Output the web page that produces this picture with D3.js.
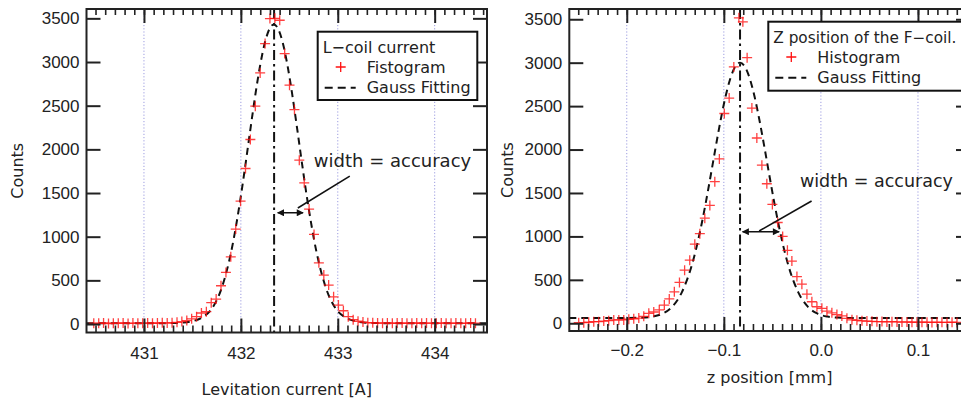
<!DOCTYPE html>
<html><head><meta charset="utf-8">
<script src="https://cdn.jsdelivr.net/npm/d3@7"></script>
<style>
html,body{margin:0;padding:0;background:#fff;}
svg{display:block;}
.lbl{font-family:"DejaVu Sans",sans-serif;font-size:16px;fill:#222;}
</style></head><body>
<svg id="chart" width="961" height="401"></svg>
<script>
// ---------------- DATA ----------------
const yTicks = [0, 500, 1000, 1500, 2000, 2500, 3000, 3500];
const yTickLabels = ["0", "500", "1000", "1500", "2000", "2500", "3000", "3500"];

// Left panel: L-coil current
const leftXTicks = [431, 432, 433, 434];
const leftXTickLabels = ["431", "432", "433", "434"];
const leftHistX = [430.482,430.533,430.583,430.634,430.684,430.735,430.785,430.836,430.886,430.937,
  430.987,431.038,431.088,431.139,431.189,431.240,431.290,431.341,431.391,431.442,
  431.492,431.543,431.593,431.644,431.694,431.745,431.795,431.846,431.896,431.947,
  431.997,432.048,432.098,432.149,432.199,432.250,432.300,432.351,432.401,432.452,
  432.502,432.553,432.603,432.654,432.704,432.755,432.805,432.856,432.906,432.957,
  433.007,433.058,433.108,433.159,433.209,433.260,433.310,433.361,433.411,433.462,
  433.512,433.563,433.613,433.664,433.714,433.765,433.815,433.866,433.916,433.967,
  434.017,434.068,434.118,434.169,434.219,434.270,434.320,434.371,434.421];
const leftHistY = [10,8,12,6,10,9,12,7,11,10,
  8,13,9,12,14,11,15,20,28,40,
  60,84,126,141,244,286,438,591,770,1087,
  1407,1781,2113,2494,2875,3211,3497,3500,3478,3097,
  2735,2456,1876,1617,1316,1026,701,561,446,312,
  217,152,84,50,32,22,16,14,12,10,
  13,9,11,12,8,10,12,9,11,10,
  8,12,10,9,11,8,10,12,9];
const leftGaussX = [430.41,431.0,431.2,431.3,431.4,431.5,431.6,431.7,431.8,431.9,432.0,432.05,432.1,432.15,432.2,432.25,432.3,432.34,
  432.38,432.43,432.48,432.53,432.58,432.63,432.68,432.78,432.88,432.98,433.08,433.18,433.28,433.38,433.6,434.54];
const leftGaussY = [10,10,10,11,16,32,75,175,406,827,1465,1846,2244,2629,2968,3231,3390,3430,
  3390,3231,2968,2629,2244,1846,1465,827,406,175,75,32,16,11,10,10];
const leftMean = 432.343;
const leftArrowX = [432.38, 432.642], leftArrowY = 1274;
const leftPointerX = [432.588, 433.124], leftPointerY = [1328, 1694];
const leftNoteX = 432.753, leftNoteY = 1801;

// Right panel: Z position of the F-coil
const rightXTicks = [-0.2, -0.1, 0.0, 0.1];
const rightXTickLabels = ["\u22120.2", "\u22120.1", "0.0", "0.1"];
const rightHistX = [-0.2495,-0.2443,-0.2392,-0.2340,-0.2289,-0.2237,-0.2186,-0.2134,-0.2082,-0.2031,
  -0.1979,-0.1928,-0.1876,-0.1825,-0.1773,-0.1722,-0.1665,-0.1613,-0.1562,-0.1510,
  -0.1457,-0.1404,-0.1351,-0.1299,-0.1247,-0.1196,-0.1144,-0.1093,-0.1046,-0.0995,
  -0.0945,-0.0897,-0.0845,-0.0804,-0.0760,-0.0711,-0.0660,-0.0608,-0.0557,-0.0500,
  -0.0445,-0.0394,-0.0345,-0.0299,-0.0247,-0.0196,-0.0144,-0.0093,-0.0041,0.0010,
  0.0062,0.0113,0.0165,0.0216,0.0268,0.0320,0.0371,0.0423,0.0474,0.0526,
  0.0577,0.0629,0.0680,0.0732,0.0784,0.0835,0.0887,0.0938,0.0990,0.1041,
  0.1093,0.1144,0.1196,0.1247,0.1299,0.1351,0.1402];
const rightHistY = [7,7,12,18,18,25,30,38,38,38,
  46,52,60,80,115,130,155,210,280,362,
  470,611,726,910,1032,1210,1357,1630,1892,2415,
  2592,2951,3516,3470,3058,2477,2133,1820,1606,1368,
  1160,1000,840,716,538,450,335,248,190,172,
  140,120,100,85,57,40,35,28,25,22,
  18,20,15,18,16,14,15,12,14,13,
  12,10,12,11,10,12,10];
const rightGaussX = [-0.2592,-0.2033,-0.1833,-0.1733,-0.1633,-0.1533,-0.1433,-0.1333,-0.1283,-0.1233,-0.1183,-0.1133,-0.1083,-0.1033,-0.0983,-0.0933,-0.0883,-0.0833,
  -0.0783,-0.0733,-0.0683,-0.0633,-0.0583,-0.0533,-0.0483,-0.0433,-0.0383,-0.0333,-0.0233,-0.0133,-0.0033,0.0067,0.0167,0.0367,0.1536];
const rightGaussY = [60,60,65,77,110,189,356,657,868,1120,1406,1716,2034,2338,2607,2818,2954,3000,
  2954,2818,2607,2338,2034,1716,1406,1120,868,657,356,189,110,77,65,60,60];
const rightMean = -0.0833;
const rightArrowX = [-0.0807, -0.0430], rightArrowY = 1054;
const rightPointerX = [-0.0636, -0.0096], rightPointerY = [1063, 1408];
const rightNoteX = -0.0216, rightNoteY = 1573;

// ---------------- DRAW ----------------
const svg = d3.select("#chart");
const defs = svg.append("defs");
defs.append("marker").attr("id","ah").attr("viewBox","0 0 10 10")
  .attr("refX",9).attr("refY",5).attr("markerWidth",8).attr("markerHeight",7)
  .attr("markerUnits","userSpaceOnUse").attr("orient","auto-start-reverse")
  .append("path").attr("d","M0,0L10,5L0,10z").attr("fill","#111");

function plus(x, y, s) { return `M${x - s},${y}h${2 * s}M${x},${y - s}v${2 * s}`; }

function panel(c) {
  const g = svg.append("g");
  const x = d3.scaleLinear().domain(c.xDomain).range([c.left, c.right]);
  const y = d3.scaleLinear().domain(c.yDomain).range([c.bottom, c.top]);
  const clipId = "clip" + c.id;
  defs.append("clipPath").attr("id", clipId).append("rect")
    .attr("x", c.left).attr("y", c.top).attr("width", c.right - c.left).attr("height", c.bottom - c.top);

  // grid
  g.append("g").selectAll("line").data(c.xTicks).join("line")
    .attr("x1", d => x(d)).attr("x2", d => x(d)).attr("y1", c.top).attr("y2", c.bottom)
    .attr("stroke", "#9c9ce0").attr("stroke-width", 1).attr("stroke-dasharray", "1.2,2");

  const pl = g.append("g").attr("clip-path", `url(#${clipId})`);
  // mean line
  pl.append("line").attr("x1", x(c.mean)).attr("x2", x(c.mean)).attr("y1", c.top).attr("y2", c.bottom)
    .attr("stroke", "#111").attr("stroke-width", 2).attr("stroke-dasharray", "10,4,2.5,4");
  // gauss fit
  const line = d3.line().x(d => x(d[0])).y(d => y(d[1])).curve(d3.curveMonotoneX);
  pl.append("path").datum(d3.zip(c.gx, c.gy)).attr("d", line).attr("fill", "none")
    .attr("stroke", "#111").attr("stroke-width", 2).attr("stroke-dasharray", "7,5");
  // histogram markers
  pl.append("g").selectAll("path").data(d3.zip(c.hx, c.hy)).join("path")
    .attr("d", d => plus(x(d[0]), y(d[1]), 5))
    .attr("fill", "none").attr("stroke", "#ff1010").attr("stroke-width", 1.3).attr("opacity", 0.8);

  // axes
  function ax(gen, tr) {
    const a = g.append("g").attr("transform", tr).call(gen);
    a.select(".domain").remove();
    a.selectAll(".tick line").attr("stroke", "#222").attr("stroke-width", 2);
    a.attr("font-family", "'Liberation Sans', Arial, sans-serif").attr("font-size", 17);
    a.selectAll(".tick text").attr("fill", "#222");
    return a;
  }
  ax(d3.axisBottom(x).tickValues(c.xTicks).tickFormat((d, i) => c.xTickLabels[i]).tickSizeInner(-14).tickSizeOuter(0).tickPadding(c.xPad), `translate(0,${c.bottom})`);
  ax(d3.axisBottom(x).tickValues(c.xMinor).tickFormat("").tickSizeInner(-7).tickSizeOuter(0), `translate(0,${c.bottom})`)
    .selectAll(".tick line").attr("stroke-width", 1.6);
  ax(d3.axisTop(x).tickValues(c.xTicks).tickFormat("").tickSizeInner(-14).tickSizeOuter(0), `translate(0,${c.top})`);
  ax(d3.axisTop(x).tickValues(c.xMinor).tickFormat("").tickSizeInner(-6).tickSizeOuter(0), `translate(0,${c.top})`)
    .selectAll(".tick line").attr("stroke-width", 1.6);
  ax(d3.axisLeft(y).tickValues(yTicks).tickFormat((d, i) => yTickLabels[i]).tickSizeInner(-14).tickSizeOuter(0).tickPadding(7), `translate(${c.left},0)`);
  ax(d3.axisRight(y).tickValues(yTicks).tickFormat("").tickSizeInner(-14).tickSizeOuter(0), `translate(${c.right},0)`);

  // frame
  g.append("rect").attr("x", c.left).attr("y", c.top).attr("width", c.right - c.left).attr("height", c.bottom - c.top)
    .attr("fill", "none").attr("stroke", "#222").attr("stroke-width", 2);

  // annotation: width arrow + pointer + note
  g.append("line").attr("x1", x(c.arrowX[0])).attr("x2", x(c.arrowX[1])).attr("y1", y(c.arrowY)).attr("y2", y(c.arrowY))
    .attr("stroke", "#111").attr("stroke-width", 1.5).attr("marker-start", "url(#ah)").attr("marker-end", "url(#ah)");
  g.append("line").attr("x1", x(c.pointerX[0])).attr("x2", x(c.pointerX[1])).attr("y1", y(c.pointerY[0])).attr("y2", y(c.pointerY[1]))
    .attr("stroke", "#111").attr("stroke-width", 1.6);
  g.append("text").attr("class", "lbl").attr("x", x(c.noteX)).attr("y", y(c.noteY)).style("font-size", c.noteSize).text("width = accuracy");

  // axis titles
  g.append("text").attr("class", "lbl").attr("x", (c.left + c.right) / 2).attr("y", c.xTitleY).attr("text-anchor", "middle").text(c.xTitle);
  g.append("text").attr("class", "lbl").attr("transform", `translate(${c.yTitleX},${(c.top + c.bottom) / 2}) rotate(-90)`).attr("text-anchor", "middle").text("Counts");

  // legend
  const L = c.legend;
  const lg = g.append("g");
  lg.append("rect").attr("x", L.x).attr("y", L.y).attr("width", L.w).attr("height", L.h).attr("fill", "#fff").attr("stroke", "#111").attr("stroke-width", 2);
  lg.append("text").attr("class", "lbl").attr("x", L.x + 5).attr("y", L.y + 21.5).style("font-size", L.titleSize).text(L.title);
  lg.append("path").attr("d", plus(L.x + 23, L.y + 35.3, 5)).attr("stroke", "#ff1010").attr("stroke-width", 1.3).attr("fill", "none");
  lg.append("text").attr("class", "lbl").attr("x", L.x + 49).attr("y", L.y + 41.2).text(L.s1);
  lg.append("line").attr("x1", L.x + 7).attr("x2", L.x + 38).attr("y1", L.y + 56).attr("y2", L.y + 56)
    .attr("stroke", "#111").attr("stroke-width", 2).attr("stroke-dasharray", "8,5");
  lg.append("text").attr("class", "lbl").attr("x", L.x + 49).attr("y", L.y + 61.3).text("Gauss Fitting");
}

panel({
  id: "L", left: 86.5, right: 487, top: 9, bottom: 332.5,
  xDomain: [430.407, 434.54], yDomain: [-97, 3607],
  xTicks: leftXTicks, xTickLabels: leftXTickLabels, xMinor: d3.range(4305, 4346).map(v => v / 10), xPad: 14.5,
  hx: leftHistX, hy: leftHistY, gx: leftGaussX, gy: leftGaussY, mean: leftMean,
  arrowX: leftArrowX, arrowY: leftArrowY, pointerX: leftPointerX, pointerY: leftPointerY, noteX: leftNoteX, noteY: leftNoteY, noteSize: "18px",
  xTitle: "Levitation current [A]", xTitleY: 395, yTitleX: 23,
  legend: { x: 317.7, y: 31.7, w: 159.6, h: 68.3, title: "L\u2212coil current", titleSize: "16px", s1: "Fistogram" }
});
panel({
  id: "R", left: 569.3, right: 970, top: 9, bottom: 331,
  xDomain: [-0.2592, 0.1536], yDomain: [-89, 3618],
  xTicks: rightXTicks, xTickLabels: rightXTickLabels, xMinor: d3.range(-25, 16).map(v => v / 100), xPad: 13,
  hx: rightHistX, hy: rightHistY, gx: rightGaussX, gy: rightGaussY, mean: rightMean,
  arrowX: rightArrowX, arrowY: rightArrowY, pointerX: rightPointerX, pointerY: rightPointerY, noteX: rightNoteX, noteY: rightNoteY, noteSize: "17.5px",
  xTitle: "z position [mm]", xTitleY: 382.7, yTitleX: 513,
  legend: { x: 768.3, y: 21.7, w: 215, h: 69, title: "Z position of the F\u2212coil.", titleSize: "15.3px", s1: "Histogram" }
});
</script>
</body></html>
